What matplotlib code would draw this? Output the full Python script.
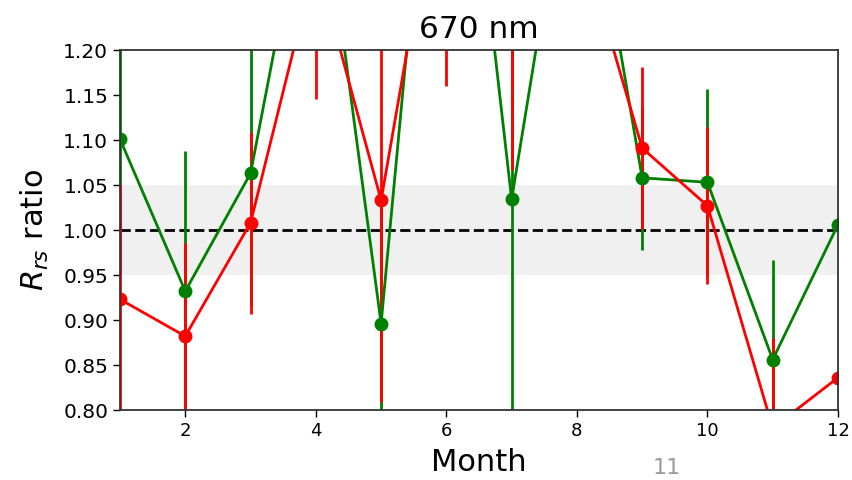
import numpy as np
import matplotlib
matplotlib.use('Agg')
import matplotlib.pyplot as plt

months = np.arange(1, 13)

# Rrs ratio per month for the two data sets at 670 nm
green_ratio = [1.101, 0.932, 1.063, 1.44, 0.896, 1.67, 1.034, 1.48, 1.058, 1.053, 0.856, 1.006]
green_err = [0.15, 0.156, 0.147, 0.10, 0.15, 0.20, 0.30, 0.10, 0.08, 0.104, 0.111, 0.0]

red_ratio = [0.923, 0.882, 1.008, 1.30, 1.033, 1.45, 1.33, 1.34, 1.091, 1.027, 0.78, 0.836]
red_err = [0.127, 0.104, 0.101, 0.154, 0.224, 0.29, 0.263, 0.10, 0.09, 0.087, 0.10, 0.0]

yticks = np.arange(0.80, 1.2001, 0.05)
xticks = [2, 4, 6, 8, 10, 12]

fig = plt.figure(figsize=(8.53, 4.8), dpi=100)
ax = fig.add_axes([0.1407, 0.1458, 0.8417, 0.75])

# +-5% band around unity
ax.axhspan(0.95, 1.05, color='#f0f0f0', lw=0, zorder=0)
ax.axhline(1.0, color='k', linestyle='--', lw=2, zorder=1)

ax.errorbar(months, green_ratio, yerr=green_err, fmt='-o', color='g',
            lw=2, elinewidth=2, markersize=9)
ax.errorbar(months, red_ratio, yerr=red_err, fmt='-o', color='r',
            lw=2, elinewidth=2, markersize=9)

ax.set_xlim(1, 12)
ax.set_ylim(0.8, 1.2)
ax.set_xticks(xticks)
ax.set_yticks(yticks)
ax.set_yticklabels(['%.2f' % v for v in yticks])
ax.tick_params(length=5, width=1)
ax.tick_params(axis='x', labelsize=13)
ax.tick_params(axis='y', labelsize=14.5)

for s in ax.spines.values():
    s.set_color('#333333')
    s.set_linewidth(1.3)

ax.set_title('670 nm', fontsize=22.5, pad=9)
ax.set_xlabel('Month', fontsize=22, labelpad=6)
ax.set_ylabel('$R_{rs}$ ratio', fontsize=22, labelpad=9)

# slide page number
fig.text(0.782, 0.046, '11', color='#999999', fontsize=16, ha='center', va='top')

fig.savefig('out.png', dpi=100)
